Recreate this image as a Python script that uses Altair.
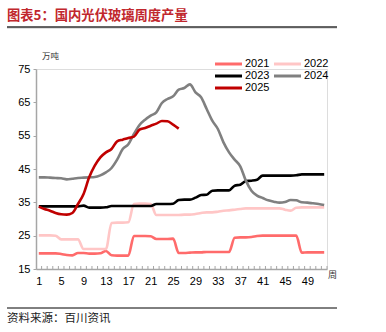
import altair as alt
import pandas as pd

years = ["2021", "2022", "2023", "2024", "2025"]
colors = ["#FF6B6B", "#FFC6C6", "#000000", "#808080", "#C00000"]

v2021 = [19.7, 19.7, 19.7, 19.7, 19.5, 19.2, 19.1, 19.8, 19.8, 19.6, 19.6, 19.7, 20.4, 19.1, 19.0, 19.0, 19.0,
         24.9, 24.9, 24.9, 24.8, 24.0, 24.0, 24.0, 24.1, 19.8, 19.8, 19.9, 20.0, 20.0, 20.1, 20.1, 20.1, 20.1,
         20.1, 24.4, 24.5, 24.5, 24.6, 24.9, 25.0, 25.0, 25.0, 25.0, 25.0, 25.0, 25.0, 19.9, 20.0, 20.0, 20.0, 20.0]
v2022 = [25.1, 25.1, 25.1, 25.0, 23.9, 23.9, 23.9, 23.9, 21.0, 21.0, 21.0, 21.0, 21.0, 28.8, 28.9, 28.9, 29.0,
         34.5, 34.6, 34.6, 34.5, 31.2, 31.2, 31.2, 31.2, 31.2, 31.3, 31.3, 31.5, 31.8, 32.0, 32.0, 32.2, 32.5,
         32.6, 32.8, 33.0, 33.2, 33.2, 33.2, 33.2, 33.2, 33.2, 33.2, 32.8, 32.5, 33.4, 33.5, 33.5, 33.5, 33.5, 33.5]
v2023 = [33.8, 33.8, 33.8, 33.8, 33.8, 33.8, 33.8, 33.8, 34.0, 33.4, 33.4, 33.4, 33.5, 33.9, 33.9, 33.9, 33.9,
         33.9, 33.9, 33.9, 33.9, 34.5, 34.5, 34.5, 34.6, 35.7, 35.8, 35.8, 36.4, 37.2, 37.3, 38.5, 38.6, 38.6,
         38.6, 40.0, 40.3, 41.4, 41.5, 41.8, 43.0, 43.0, 43.0, 43.0, 43.0, 43.0, 43.1, 43.4, 43.4, 43.4, 43.4, 43.4]
v2024 = [42.5, 42.5, 42.4, 42.3, 42.2, 41.9, 42.1, 42.3, 42.4, 42.5, 42.6, 43.1, 44.0, 45.3, 47.8, 51.0, 52.4,
         55.5, 58.2, 59.8, 61.0, 62.0, 64.8, 66.0, 66.8, 68.8, 69.3, 70.4, 68.0, 66.5, 63.0, 59.5, 57.0, 53.0,
         50.0, 47.8, 45.8, 41.5, 38.5, 37.0, 36.3, 35.6, 35.2, 34.9, 35.1, 35.7, 35.6, 35.0, 34.9, 34.7, 34.5, 34.2]
v2025 = [33.7, 33.0, 32.5, 31.8, 31.4, 31.3, 31.8, 34.5, 37.5, 42.5, 46.0, 48.5, 50.0, 51.0, 53.3, 53.8, 54.3,
         54.7, 56.8, 57.3, 58.0, 58.6, 59.4, 59.3, 58.3, 57.1]

tick_labels = [1, 5, 9, 13, 17, 21, 25, 29, 33, 37, 41, 45, 49]
y_ticks = [15, 25, 35, 45, 55, 65, 75]

title_text = "图表5：国内光伏玻璃周度产量"
unit_text = "万吨"
xunit_text = "周"
source_text = "资料来源：百川资讯"

series = [v2021, v2022, v2023, v2024, v2025]
rows = []
for yr, vals in zip(years, series):
    for i, v in enumerate(vals):
        rows.append({"week": i + 1, "value": v, "year": yr})
df = pd.DataFrame(rows)

# layout (pixels)
L, T, W, H = 36, 69, 291, 200
TOTAL_W, TOTAL_H = 386, 332

xscale = alt.Scale(domain=[0.5, 52.5], nice=False, zero=False)
yscale = alt.Scale(domain=[15, 75], nice=False, zero=False)
FONT = "Liberation Sans"
CJK = "Noto Sans CJK SC"

xaxis = alt.Axis(values=tick_labels, ticks=False, grid=False, title=None,
                 domainColor="#A6A6A6", domainWidth=1.5, labelFont=FONT,
                 labelFontSize=11, labelColor="#000000", labelPadding=6,
                 labelFlush=False, labelOverlap=False)

lines = alt.Chart(df).mark_line(strokeWidth=2.6, interpolate="monotone").encode(
    x=alt.X("week:Q", scale=xscale, axis=xaxis),
    y=alt.Y("value:Q", scale=yscale,
            axis=alt.Axis(values=y_ticks, grid=False, title=None, tickSize=3, tickColor="#A6A6A6",
                          domainColor="#A6A6A6", domainWidth=1.5, labelFont=FONT,
                          labelFontSize=11, labelColor="#000000", labelPadding=3,
                          labelOverlap=False)),
    color=alt.Color("year:N", scale=alt.Scale(domain=years, range=colors), legend=None),
    order=alt.Order("week:Q"),
)

# minor week ticks on x-axis (pointing up)
tick_df = pd.DataFrame({"week": [w + 0.5 for w in range(1, 53)]})
xticks = alt.Chart(tick_df).mark_rule(color="#A6A6A6", strokeWidth=1).encode(
    x=alt.X("week:Q", scale=xscale, axis=xaxis),
    y=alt.value(H),
    y2=alt.value(H - 3),
)

layers = [lines, xticks]

# manual legend
for i, (yr, c) in enumerate(zip(years, colors)):
    col, row = i % 2, i // 2
    x0 = 215 + col * 59 - L
    yy = 64 + row * 12 - T
    d = pd.DataFrame({"label": [yr]})
    layers.append(alt.Chart(d).mark_rule(color=c, strokeWidth=3).encode(
        x=alt.value(x0), x2=alt.value(x0 + 27), y=alt.value(yy)))
    layers.append(alt.Chart(d).mark_text(align="left", baseline="middle", font=FONT,
                                         fontSize=11, color="#000000").encode(
        x=alt.value(x0 + 30), y=alt.value(yy), text="label:N"))

def txt(s, px, py, size, color, font, weight="normal", align="left"):
    d = pd.DataFrame({"s": [s]})
    return alt.Chart(d).mark_text(align=align, baseline="middle", fontSize=size, color=color,
                                  font=font, fontWeight=weight).encode(
        x=alt.value(px - L), y=alt.value(py - T), text="s:N")

def hline(x1, x2, py, color, width):
    d = pd.DataFrame({"s": [0]})
    return alt.Chart(d).mark_rule(color=color, strokeWidth=width).encode(
        x=alt.value(x1 - L), x2=alt.value(x2 - L), y=alt.value(py - T))

layers.append(txt(title_text, 7, 16, 13.3, "#C1272D", CJK, weight="bold"))
layers.append(hline(7, 337, 28, "#BFBFBF", 1))
layers.append(hline(7, 337, 27, "#333333", 1.5))
layers.append(txt(unit_text, 42, 55.5, 8.5, "#333333", CJK))
layers.append(txt(xunit_text, 328, 275, 9, "#333333", CJK))
layers.append(hline(7, 337, 308, "#000000", 1))
layers.append(txt(source_text, 7, 318.5, 11.5, "#222222", CJK))

chart = alt.layer(*layers).properties(
    width=W, height=H,
    autosize=alt.AutoSizeParams(type="none"),
    padding={"left": L, "top": T, "right": TOTAL_W - L - W, "bottom": TOTAL_H - T - H},
).configure_view(stroke=None).configure(background="white")

chart.save("out.html", embed_options={"renderer": "svg", "actions": False})
